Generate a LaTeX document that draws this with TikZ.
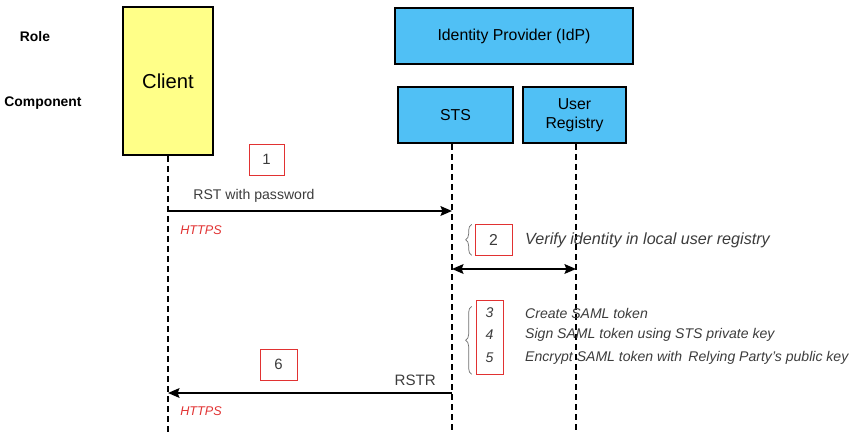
\documentclass[tikz,border=0pt]{standalone}
\usepackage{fontspec}
\setmainfont{Liberation Sans}
\usetikzlibrary{arrows.meta,decorations.pathreplacing}
\definecolor{client_yell}{RGB}{255,255,136}
\definecolor{idp_blue}{RGB}{80,192,245}
\definecolor{step_red}{RGB}{225,50,50}
\definecolor{brace_gray}{RGB}{110,110,110}
\definecolor{text_gray}{RGB}{60,60,60}
\begin{document}
\begin{tikzpicture}[x=0.02cm,y=-0.02cm,>={Stealth[length=6.5pt,width=5.5pt,inset=1pt]}]
    \tikzstyle{actor}=[draw, rectangle, inner sep=0pt, line width=1pt, text=black]
    \tikzstyle{client}=[style=actor, fill=client_yell, minimum width=1.8cm, minimum height=2.96cm, font=\fontsize{11.5}{14}\selectfont]
    \tikzstyle{idp}=[style=actor, fill=idp_blue, minimum height=1.12cm, font=\fontsize{9}{10.5}\selectfont, align=center]
    \tikzstyle{stepbox}=[draw=step_red, rectangle, inner sep=0pt, fill=white, text=text_gray]
    \tikzstyle{rolelabel}=[font=\fontsize{7.9}{9}\selectfont\bfseries]
    \tikzstyle{msg}=[font=\fontsize{8}{9.5}\selectfont, text=text_gray]
    \tikzstyle{proto}=[font=\fontsize{7.2}{8.5}\selectfont\itshape, text=step_red]
    \tikzstyle{todo}=[font=\fontsize{8}{9.5}\selectfont\itshape, text=text_gray, anchor=west]
    \tikzstyle{lifeline}=[dashed, line width=1.1pt, dash pattern=on 3.4pt off 2.3pt]
    \tikzstyle{call}=[->, line width=1pt]
    \tikzstyle{grpbrace}=[draw=brace_gray, decorate, decoration={brace, amplitude=0.12cm}]

    \useasboundingbox (0,0) rectangle (853,432);

    % roles and components
    \node[rolelabel] (role) at (35,37) {Role};
    \node[rolelabel] (comp) at (43,103) {Component};
    \node[client] (client) at (168,81) {Client};
    \node[idp, minimum width=4.76cm] (idp) at (514,36) {Identity Provider (IdP)};
    \node[idp, minimum width=2.3cm]  (sts) at (455.5,115) {STS};
    \node[idp, minimum width=2.06cm] (reg) at (574.5,115) {User\\Registry};

    % lifelines
    \coordinate (clientEnd) at (168,432);
    \coordinate (stsEnd) at (452,432);
    \coordinate (regEnd) at (576,432);
    \draw[lifeline] (client.south) -- (clientEnd);
    \draw[lifeline] (sts.south -| stsEnd) -- (stsEnd);
    \draw[lifeline] (reg.south -| regEnd) -- (regEnd);

    % step 1
    \coordinate (c1) at (168,211);
    \coordinate (s1) at (452,211);
    \node[stepbox, minimum width=0.7cm, minimum height=0.62cm, font=\fontsize{8.5}{10}\selectfont] (n1) at (266.5,159.5) {1};
    \node[msg] (rst) at (254,196) {RST with password};
    \node[proto] (https1) at (201,230) {HTTPS};
    \draw[call] (c1) -- (s1);

    % step 2
    \coordinate (s2) at (452,269);
    \coordinate (r2) at (576,269);
    \node[stepbox, minimum width=0.74cm, minimum height=0.62cm, font=\fontsize{9}{10.5}\selectfont] (n2) at (493.5,239.5) {2};
    \node[todo, font=\fontsize{9.2}{10.5}\selectfont\itshape] (t2) at (519,240) {Verify identity in local user registry};
    \draw[grpbrace] (n2.south west) ++(-3,0) -- ++(0,-31);
    \draw[<->, line width=1pt] (s2) -- (r2);

    % steps 3 to 5
    \node[stepbox, minimum width=0.54cm, minimum height=1.48cm] (n35) at (489.5,337) {};
    \node[todo, anchor=center] (n3) at (n35.center |- 0,313) {3};
    \node[todo, anchor=center] (n4) at (n35.center |- 0,335) {4};
    \node[todo, anchor=center] (n5) at (n35.center |- 0,358) {5};
    \node[todo] (t3) at (519,313) {Create SAML token};
    \node[todo] (t4) at (519,335) {Sign SAML token using STS private key};
    \node[todo] (t5) at (519,358) {Encrypt SAML token with\, Relying Party's public key};
    \draw[grpbrace] (n35.south west) ++(-4,0) -- ++(0,-68);

    % step 6
    \coordinate (s6) at (452,393);
    \coordinate (c6) at (168,393);
    \node[stepbox, minimum width=0.74cm, minimum height=0.62cm, font=\fontsize{8.5}{10}\selectfont] (n6) at (278.5,364.5) {6};
    \node[msg, anchor=east, font=\fontsize{8.6}{10}\selectfont] (rstr) at (442,380) {RSTR};
    \node[proto] (https2) at (201,411) {HTTPS};
    \draw[call] (s6) -- (c6);
  \end{tikzpicture}
\end{document}
